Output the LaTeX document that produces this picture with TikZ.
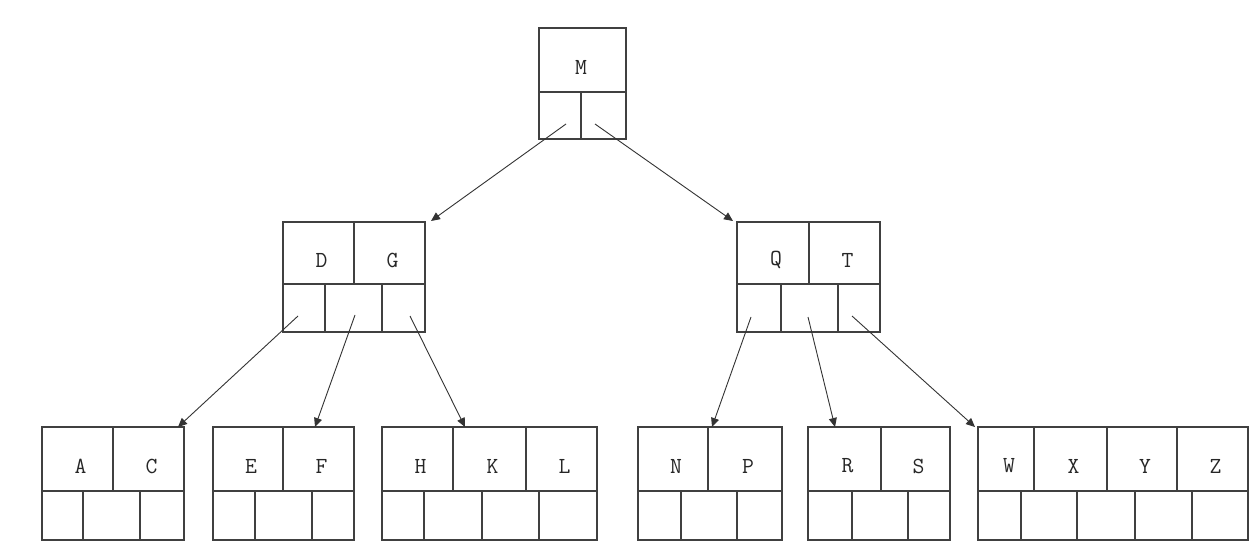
\documentclass[tikz,border=0pt]{standalone}
\usepackage{fontspec}
\usetikzlibrary{arrows.meta}
\tikzset{
  boxline/.style={draw=black!75, line width=1.3pt},
  ptr/.style={draw=black!80, line width=0.9pt, -{Triangle[length=9pt,width=8pt]}},
  lbl/.style={font=\ttfamily\fontsize{23}{23}\selectfont, text=black!85, inner sep=0pt},
  btbox/.style={boxline, rectangle, inner sep=0pt, outer sep=0pt},
}
% \btn{name}{x1}{x2}{y1}{ydiv}{y2}{top splits}{bottom splits}
\newcommand{\btn}[8]{%
  \node[btbox, minimum width={(#3-#2)*1pt}, minimum height={(#6-#4)*1pt}] (#1) at ({(#2+#3)/2},{(#4+#6)/2}) {};
  \draw[boxline] (#2,#5) -- (#3,#5);
  \foreach \xx in {#7} {\draw[boxline] (\xx,#4) -- (\xx,#5);}
  \foreach \xx in {#8} {\draw[boxline] (\xx,#5) -- (\xx,#6);}
}
\begin{document}
\begin{tikzpicture}[x=1pt,y=-1pt]
\useasboundingbox[fill=white] (0,0) rectangle (1258,556);
% boxes
\btn{m}{539}{626}{28}{92}{139}{}{581}
\btn{dg}{283}{425}{222}{284}{332}{354}{325,382}
\btn{qt}{737}{880}{222}{284}{332}{809}{781,838}
\btn{ac}{42}{184}{427}{491}{540}{113}{83,140}
\btn{ef}{213}{354}{427}{491}{540}{283}{255,312}
\btn{hkl}{382}{597}{427}{491}{540}{453,526}{424,482,539}
\btn{np}{638}{782}{427}{491}{540}{708}{681,737}
\btn{rs}{808}{950}{427}{491}{540}{881}{852,908}
\btn{wxyz}{978}{1248}{427}{491}{540}{1034,1107,1177}{1021,1077,1135,1192}
% labels
\node[lbl] (lM) at (581,67) {M};
\node[lbl] (lD) at (321.5,260) {D};
\node[lbl] (lG) at (392.5,260) {G};
\node[lbl] (lQ) at (776,260) {Q};
\node[lbl] (lT) at (847.5,260) {T};
\node[lbl] (lA) at (80.5,466) {A};
\node[lbl] (lC) at (151.5,466) {C};
\node[lbl] (lE) at (251,466) {E};
\node[lbl] (lF) at (321.5,466) {F};
\node[lbl] (lH) at (420.5,466) {H};
\node[lbl] (lK) at (492.5,466) {K};
\node[lbl] (lL) at (564.5,466) {L};
\node[lbl] (lN) at (676,466) {N};
\node[lbl] (lP) at (748,466) {P};
\node[lbl] (lR) at (847.5,466) {R};
\node[lbl] (lS) at (918.5,466) {S};
\node[lbl] (lW) at (1009,466) {W};
\node[lbl] (lX) at (1073.5,466) {X};
\node[lbl] (lY) at (1145,466) {Y};
\node[lbl] (lZ) at (1215.5,466) {Z};
% pointer starts
\coordinate (m1) at (566,124);
\coordinate (m2) at (595,124);
\coordinate (dg1) at (298,316);
\coordinate (dg2) at (355,315);
\coordinate (dg3) at (410,316);
\coordinate (qt1) at (751,317);
\coordinate (qt2) at (808,317);
\coordinate (qt3) at (852,316);
% targets
\coordinate (tdg) at (431,221);
\coordinate (tqt) at (733,221);
\coordinate (tac) at (178,427);
\coordinate (tef) at (315,427);
\coordinate (thkl) at (465,427);
\coordinate (tnp) at (712,427);
\coordinate (trs) at (835,427);
\coordinate (twxyz) at (975,427);
% connectors
\draw[ptr] (m1) -- (tdg);
\draw[ptr] (m2) -- (tqt);
\draw[ptr] (dg1) -- (tac);
\draw[ptr] (dg2) -- (tef);
\draw[ptr] (dg3) -- (thkl);
\draw[ptr] (qt1) -- (tnp);
\draw[ptr] (qt2) -- (trs);
\draw[ptr] (qt3) -- (twxyz);
\end{tikzpicture}
\end{document}
